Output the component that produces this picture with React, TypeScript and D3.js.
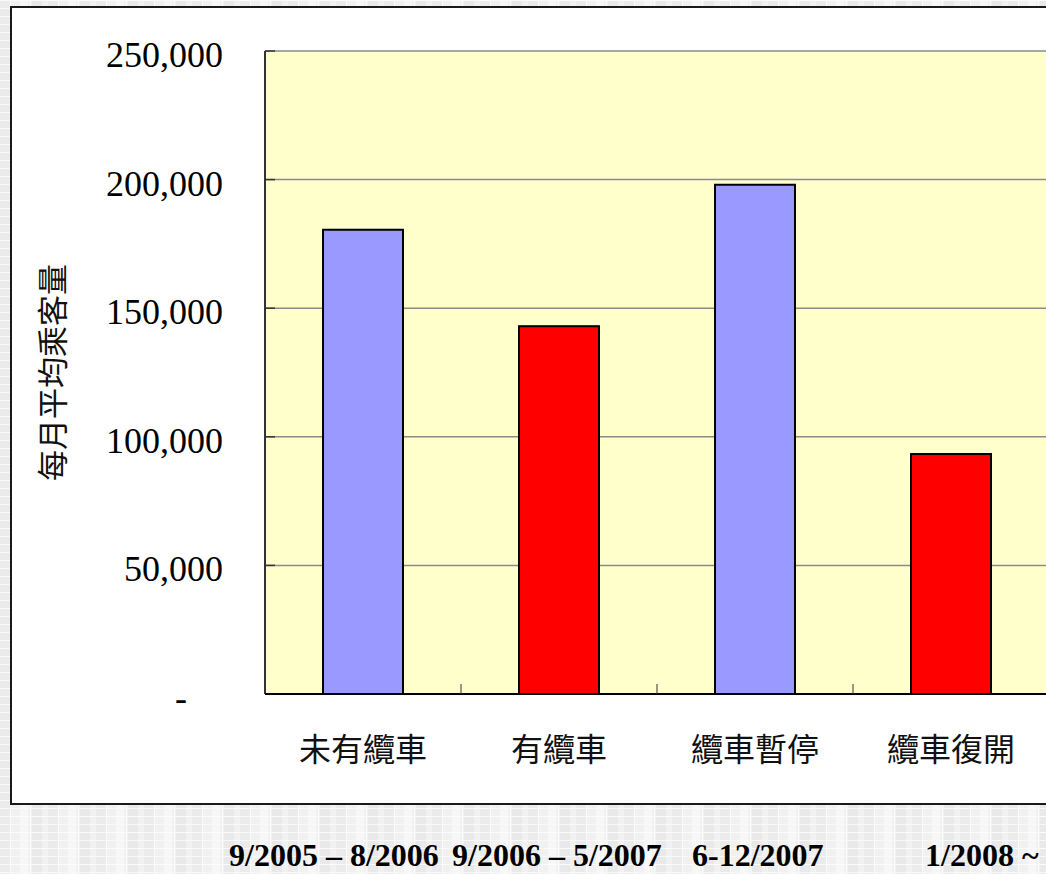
import React from "react";
import * as d3 from "d3";

const categories: string[] = ["未有纜車", "有纜車", "纜車暫停", "纜車復開"];
const passengers: number[] = [180500, 143000, 198000, 93300];
const barColors: string[] = ["#9999FF", "#FF0000", "#9999FF", "#FF0000"];
const yTicks: number[] = [0, 50000, 100000, 150000, 200000, 250000];
const periods: string[] = ["9/2005 – 8/2006", "9/2006 – 5/2007", "6-12/2007", "1/2008 ~"];
const periodX = [229, 452, 692, 925];

const width = 1046;
const height = 874;
const plotLeft = 265;
const plotRight = 1049;
const plotTop = 51;
const plotBottom = 694;

const serif = "'Liberation Serif', 'Times New Roman', serif";
const cjk = "'Noto Sans CJK TC', 'Noto Sans CJK SC', sans-serif";

const App = () => {
  const x = d3
    .scaleBand<string>()
    .domain(categories)
    .range([plotLeft, plotRight])
    .paddingInner(0.592)
    .paddingOuter(0.296);

  const xCat = d3
    .scaleBand<string>()
    .domain(categories)
    .range([plotLeft, plotRight])
    .padding(0);

  const y = d3.scaleLinear().domain([0, 250000]).range([plotBottom, plotTop]);

  const fmt = d3.format(",");

  return (
    <svg
      width={width}
      height={height}
      style={{ position: "absolute", left: 0, top: 0 }}
    >
      <defs>
        <pattern id="bg" width="48" height="16" patternUnits="userSpaceOnUse">
          <rect width="48" height="16" fill="#f1f1f1" />
          <rect x="0" y="0" width="10" height="16" fill="#ebebeb" />
          <rect x="20" y="0" width="8" height="16" fill="#f7f7f7" />
          <rect x="32" y="0" width="10" height="16" fill="#e9e9e9" />
          <line x1="0" x2="48" y1="0.5" y2="0.5" stroke="#fbfbfb" />
          <line x1="0" x2="48" y1="8.5" y2="8.5" stroke="#f8f8f8" />
          <line x1="10.5" x2="10.5" y1="0" y2="16" stroke="#fbfbfb" />
          <line x1="30.5" x2="30.5" y1="0" y2="16" stroke="#fbfbfb" />
        </pattern>
      </defs>
      <rect width={width} height={height} fill="url(#bg)" />

      {/* chart box */}
      <rect
        x={11}
        y={7}
        width={width + 20}
        height={797}
        fill="#ffffff"
        stroke="#1a1a1a"
        strokeWidth={2}
      />

      {/* plot area */}
      <rect
        x={plotLeft}
        y={plotTop}
        width={plotRight - plotLeft}
        height={plotBottom - plotTop}
        fill="#FFFFCC"
      />

      {/* gridlines */}
      {yTicks
        .filter((t) => t > 0)
        .map((t) => (
          <line
            key={t}
            x1={plotLeft}
            x2={plotRight}
            y1={y(t)}
            y2={y(t)}
            stroke="#8a8a8a"
            strokeWidth={1.5}
          />
        ))}

      {/* bars */}
      {categories.map((c, i) => (
        <rect
          key={c}
          x={x(c)}
          y={y(passengers[i])}
          width={x.bandwidth()}
          height={plotBottom - y(passengers[i])}
          fill={barColors[i]}
          stroke="#000"
          strokeWidth={2}
        />
      ))}

      {/* y axis */}
      <line
        x1={plotLeft}
        x2={plotLeft}
        y1={plotTop}
        y2={plotBottom}
        stroke="#333"
        strokeWidth={2}
      />
      {yTicks.map((t) => (
        <g key={t}>
          <line
            x1={plotLeft}
            x2={plotLeft + 10}
            y1={y(t)}
            y2={y(t)}
            stroke="#333"
            strokeWidth={1.5}
          />
          <text
            x={t === 0 ? 187 : 223}
            y={y(t) + 16}
            textAnchor="end"
            fontFamily={serif}
            fontSize={36}
            fill="#000"
          >
            {t === 0 ? "-" : fmt(t)}
          </text>
        </g>
      ))}

      {/* x axis */}
      <line
        x1={plotLeft}
        x2={plotRight}
        y1={plotBottom}
        y2={plotBottom}
        stroke="#000"
        strokeWidth={2}
      />
      {categories.map((c) => (
        <line
          key={c}
          x1={xCat(c)}
          x2={xCat(c)}
          y1={plotBottom}
          y2={plotBottom - 10}
          stroke="#333"
          strokeWidth={1}
        />
      ))}
      {categories.map((c) => (
        <text
          key={c}
          x={(xCat(c) as number) + xCat.bandwidth() / 2}
          y={761}
          textAnchor="middle"
          fontFamily={cjk}
          fontSize={32}
          fill="#111"
        >
          {c}
        </text>
      ))}

      {/* y axis title */}
      <text
        transform={`translate(64,${(plotTop + plotBottom) / 2}) rotate(-90)`}
        textAnchor="middle"
        fontFamily={cjk}
        fontSize={31}
        fill="#111"
      >
        每月平均乘客量
      </text>

      {/* period labels */}
      {periods.map((p, i) => (
        <text
          key={p}
          x={periodX[i]}
          y={866}
          fontFamily={serif}
          fontWeight="bold"
          fontSize={32}
          fill="#000"
        >
          {p}
        </text>
      ))}
    </svg>
  );
};

export default App;
